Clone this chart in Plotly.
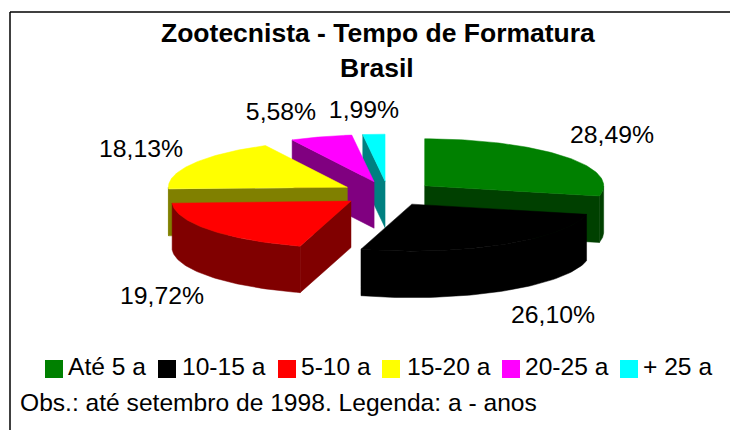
import numpy as np
import plotly.graph_objects as go

# ---- data ----
categories = ["Até 5 a", "10-15 a", "5-10 a", "15-20 a", "20-25 a", "+ 25 a"]
values = [28.49, 26.10, 19.72, 18.13, 5.58, 1.99]
top_colors = ["#008000", "#000000", "#FF0000", "#FFFF00", "#FF00FF", "#00FFFF"]
side_colors = ["#004000", "#000000", "#800000", "#808000", "#800080", "#008080"]
title_lines = ["Zootecnista - Tempo de Formatura", "Brasil"]
note = "Obs.: até setembro de 1998. Legenda: a - anos"

# ---- layout constants (pixels of the 730x430 page) ----
W, H = 730, 430
CX, CY = 388, 193.5
RX, RY = 179, 47
DEPTH = 46.5
EXPLODE = 47
FONT = "Liberation Sans, Arial, sans-serif"
label_x = [612, 553, 162, 141, 281, 364]
label_y = [137, 317, 298, 151, 114, 112]
legend_sq_x = [54, 167, 287, 391, 511, 629]
legend_txt_x = [67, 181, 300, 406, 524, 642]
LEGEND_Y = 369


def pt(deg, ax, ay, r=1.0):
    a = np.radians(deg)
    return ax + r * RX * np.sin(a), ay - r * RY * np.cos(a)


def poly(xs, ys, color):
    return go.Scatter(x=list(xs) + [xs[0]], y=list(ys) + [ys[0]], mode="lines", fill="toself",
                      fillcolor=color, line=dict(color=color, width=0.5),
                      hoverinfo="skip", showlegend=False)


fracs = np.array(values) / sum(values) * 360
ends = np.cumsum(fracs)
starts = ends - fracs
slices = []
for i in range(len(values)):
    s, e = starts[i], ends[i]
    mid = (s + e) / 2
    a = np.radians(mid)
    ax = CX + EXPLODE * np.sin(a)
    ay = CY - EXPLODE * (RY / RX) * np.cos(a)
    slices.append((s, e, mid, ax, ay))

order = [5, 4, 3, 0, 2, 1]
traces = []
for i in order:
    s, e, mid, ax, ay = slices[i]
    mx, my = pt(mid, ax, ay, 0.8)
    # radial cut walls that face the viewer
    for ang in (s, e):
        px, py = pt(ang, ax, ay)
        if abs(px - ax) < 1:
            continue
        line_y = ay + (py - ay) * (mx - ax) / (px - ax)
        if my < line_y:
            traces.append(poly([ax, px, px, ax], [ay, py, py + DEPTH, ay + DEPTH], side_colors[i]))
    # outer wall on the front half of the ellipse
    lo, hi = max(s, 90), min(e, 270)
    if hi > lo:
        th = np.linspace(lo, hi, 60)
        xa, ya = pt(th, ax, ay)
        traces.append(poly(np.r_[xa, xa[::-1]], np.r_[ya, ya[::-1] + DEPTH], side_colors[i]))
    # top face
    th = np.linspace(s, e, 80)
    xa, ya = pt(th, ax, ay)
    traces.append(poly(np.r_[ax, xa], np.r_[ay, ya], top_colors[i]))

labels = [f"{v:.2f}%".replace(".", ",") for v in values]
traces.append(go.Scatter(x=label_x, y=label_y, mode="text", text=labels, textposition="middle center",
                         textfont=dict(family=FONT, size=24.8, color="#000"),
                         hoverinfo="skip", showlegend=False))
traces.append(go.Scatter(x=legend_sq_x, y=[LEGEND_Y] * 6, mode="markers",
                         marker=dict(symbol="square", size=18, color=top_colors, line=dict(width=0)),
                         hoverinfo="skip", showlegend=False))

fig = go.Figure(traces)
ann = [
    dict(x=(159 + 596) / 2, y=33, text=f"<b>{title_lines[0]}</b>", font=dict(family=FONT, size=26.5, color="#000")),
    dict(x=377, y=68, text=f"<b>{title_lines[1]}</b>", font=dict(family=FONT, size=26.5, color="#000")),
    dict(x=19, y=402, text=note, xanchor="left", font=dict(family=FONT, size=24.6, color="#000")),
]
for x, c in zip(legend_txt_x, categories):
    ann.append(dict(x=x, y=366, text=c, xanchor="left", font=dict(family=FONT, size=24.6, color="#000")))
for a in ann:
    a.update(xref="x", yref="y", showarrow=False, borderpad=0)
    a.setdefault("xanchor", "center")

fig.update_layout(
    width=W, height=H, margin=dict(l=0, r=0, t=0, b=0), paper_bgcolor="white", plot_bgcolor="white",
    xaxis=dict(range=[0, W], visible=False, fixedrange=True),
    yaxis=dict(range=[H, 0], visible=False, fixedrange=True),
    annotations=ann,
    shapes=[
        dict(type="line", xref="x", yref="y", x0=10, x1=10, y0=12, y1=H, line=dict(color="#000", width=1.5)),
        dict(type="line", xref="x", yref="y", x0=10, x1=W, y0=12, y1=12, line=dict(color="#000", width=1.5)),
    ],
)
fig.write_html("out.html", config=dict(displayModeBar=False),
               post_script="document.body.style.margin='0';document.body.style.overflow='hidden';")
